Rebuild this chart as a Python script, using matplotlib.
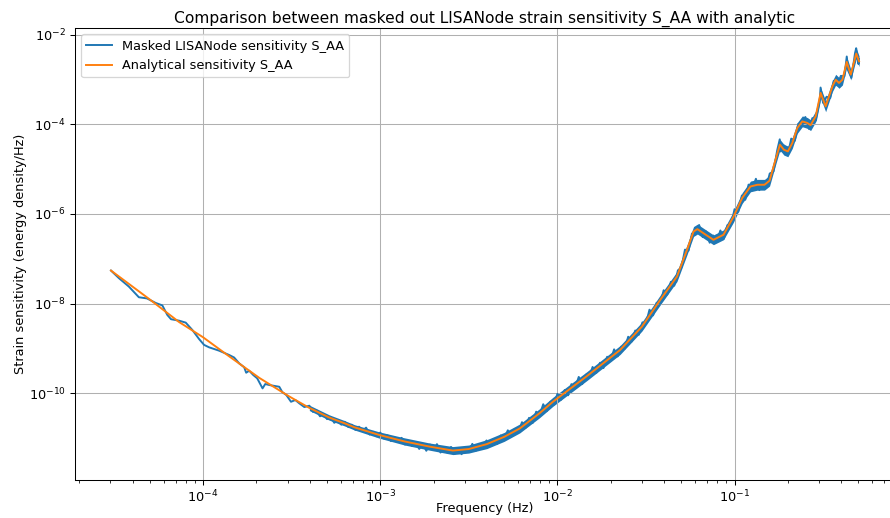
import matplotlib
matplotlib.use("Agg")
import matplotlib.pyplot as plt

# Masked LISANode sensitivity S_AA
freq_lisa = [
    3.02e-5, 3.35e-5, 3.81e-5, 4.34e-5, 4.82e-5, 5.40e-5, 5.89e-5, 6.28e-5,
    6.59e-5, 7.31e-5, 7.98e-5, 8.70e-5, 9.49e-5, 1.013e-4, 1.081e-4, 1.232e-4,
    1.403e-4, 1.497e-4, 1.598e-4, 1.706e-4, 1.751e-4, 1.821e-4, 1.919e-4, 2.021e-4,
    2.166e-4, 2.244e-4, 2.363e-4, 2.556e-4, 2.692e-4, 2.800e-4, 2.950e-4, 3.135e-4,
    3.317e-4, 3.494e-4, 3.729e-4,
    3.98e-4, 4.17e-4, 4.37e-4, 4.57e-4, 4.79e-4, 5.01e-4, 5.25e-4, 5.50e-4,
    5.75e-4, 6.03e-4, 6.31e-4, 6.61e-4, 6.92e-4, 7.24e-4, 7.59e-4, 7.94e-4,
    8.32e-4, 8.71e-4, 9.12e-4, 9.55e-4, 1.00e-3, 1.05e-3, 1.10e-3, 1.15e-3,
    1.20e-3, 1.26e-3, 1.32e-3, 1.38e-3, 1.45e-3, 1.51e-3, 1.58e-3, 1.66e-3,
    1.74e-3, 1.82e-3, 1.91e-3, 2.00e-3, 2.09e-3, 2.19e-3, 2.29e-3, 2.40e-3,
    2.51e-3, 2.63e-3, 2.75e-3, 2.88e-3, 3.02e-3, 3.16e-3, 3.31e-3, 3.47e-3,
    3.63e-3, 3.80e-3, 3.98e-3, 4.17e-3, 4.37e-3, 4.57e-3, 4.79e-3, 5.01e-3,
    5.25e-3, 5.50e-3, 5.75e-3, 6.03e-3, 6.31e-3, 6.61e-3, 6.92e-3, 7.24e-3,
    7.59e-3, 7.94e-3, 8.32e-3, 8.71e-3, 9.12e-3, 9.55e-3, 1.00e-2, 1.05e-2,
    1.10e-2, 1.15e-2, 1.20e-2, 1.26e-2, 1.32e-2, 1.38e-2, 1.45e-2, 1.51e-2,
    1.58e-2, 1.66e-2, 1.74e-2, 1.82e-2, 1.91e-2, 2.00e-2, 2.09e-2, 2.19e-2,
    2.29e-2, 2.40e-2, 2.51e-2, 2.63e-2, 2.75e-2, 2.88e-2, 3.02e-2, 3.16e-2,
    3.31e-2, 3.47e-2, 3.63e-2, 3.80e-2, 3.98e-2, 4.17e-2, 4.37e-2, 4.57e-2,
    4.79e-2, 5.01e-2, 5.25e-2, 5.50e-2, 5.75e-2, 6.03e-2, 6.31e-2, 6.61e-2,
    6.92e-2, 7.24e-2, 7.59e-2, 7.94e-2, 8.32e-2, 8.71e-2, 9.12e-2, 9.55e-2,
    0.100, 0.105, 0.110, 0.115, 0.120, 0.126, 0.132, 0.138,
    0.145, 0.151, 0.158, 0.166, 0.174, 0.180, 0.182, 0.191,
    0.200, 0.209, 0.219, 0.229, 0.240, 0.251, 0.263, 0.275,
    0.288, 0.302, 0.306, 0.316, 0.331, 0.347, 0.363, 0.380,
    0.398, 0.417, 0.430, 0.437, 0.457, 0.479, 0.486, 0.501,
    0.504,
]
s_lisa = [
    5.45e-8, 3.68e-8, 2.39e-8, 1.38e-8, 1.30e-8, 1.03e-8, 9.06e-9, 5.56e-9,
    4.46e-9, 4.14e-9, 3.74e-9, 2.56e-9, 1.61e-9, 1.19e-9, 1.05e-9, 8.83e-10,
    7.08e-10, 6.22e-10, 4.61e-10, 3.76e-10, 2.84e-10, 3.15e-10, 2.53e-10, 2.13e-10,
    1.27e-10, 1.59e-10, 1.51e-10, 1.43e-10, 1.38e-10, 1.05e-10, 9.02e-11, 6.38e-11,
    6.97e-11, 5.88e-11, 4.86e-11,
    5.21e-11, 3.79e-11, 4.11e-11, 3.02e-11, 3.40e-11, 2.61e-11, 2.94e-11, 2.16e-11,
    2.42e-11, 1.96e-11, 2.28e-11, 1.73e-11, 1.96e-11, 1.50e-11, 1.77e-11, 1.42e-11,
    1.69e-11, 1.18e-11, 1.36e-11, 1.08e-11, 1.31e-11, 9.57e-12, 1.14e-11, 8.43e-12,
    1.04e-11, 8.20e-12, 1.00e-11, 7.05e-12, 8.24e-12, 6.56e-12, 8.02e-12, 5.64e-12,
    7.35e-12, 5.13e-12, 7.08e-12, 5.32e-12, 7.21e-12, 4.68e-12, 6.00e-12, 4.59e-12,
    6.24e-12, 4.37e-12, 5.89e-12, 4.30e-12, 6.25e-12, 5.01e-12, 7.31e-12, 5.16e-12,
    7.24e-12, 6.04e-12, 8.71e-12, 6.50e-12, 9.35e-12, 7.28e-12, 1.13e-11, 9.55e-12,
    1.47e-11, 1.08e-11, 1.58e-11, 1.35e-11, 2.23e-11, 1.67e-11, 2.79e-11, 2.13e-11,
    3.83e-11, 3.21e-11, 5.62e-11, 3.93e-11, 6.41e-11, 5.50e-11, 9.55e-11, 7.08e-11,
    1.17e-10, 8.91e-11, 1.58e-10, 1.32e-10, 2.29e-10, 1.58e-10, 2.57e-10, 2.19e-10,
    3.82e-10, 2.84e-10, 4.74e-10, 3.61e-10, 6.46e-10, 5.40e-10, 9.46e-10, 6.58e-10,
    1.09e-9, 9.82e-10, 1.81e-9, 1.42e-9, 2.49e-9, 2.00e-9, 3.80e-9, 3.54e-9,
    7.28e-9, 5.43e-9, 1.04e-8, 9.70e-9, 1.98e-8, 1.58e-8, 3.05e-8, 2.50e-8,
    5.52e-8, 6.28e-8, 1.60e-7, 1.51e-7, 3.67e-7, 3.61e-7, 5.69e-7, 3.05e-7,
    4.06e-7, 2.28e-7, 3.30e-7, 2.48e-7, 4.29e-7, 2.79e-7, 5.65e-7, 5.62e-7,
    1.28e-6, 1.12e-6, 2.59e-6, 2.08e-6, 4.53e-6, 3.56e-6, 6.12e-6, 3.41e-6,
    5.16e-6, 3.91e-6, 8.02e-6, 8.95e-6, 2.62e-5, 4.66e-5, 2.49e-5, 3.38e-5,
    2.13e-5, 4.84e-5, 4.31e-5, 1.03e-4, 9.08e-5, 1.47e-4, 7.96e-5, 1.39e-4,
    1.22e-4, 3.10e-4, 6.68e-4, 3.04e-4, 4.17e-4, 3.90e-4, 9.44e-4, 7.43e-4,
    1.22e-3, 1.19e-3, 3.30e-3, 1.63e-3, 1.10e-3, 3.97e-3, 5.06e-3, 2.23e-3,
    2.90e-3,
]

# spread of the noisy LISANode curve (upper / lower edge of the band)
freq_band = [
    3.98e-4, 5.16e-4, 6.31e-4, 7.16e-4, 9.91e-4, 1.37e-3, 1.90e-3, 2.57e-3,
    3.16e-3, 4.00e-3, 5.01e-3, 6.14e-3, 7.94e-3, 9.44e-3, 1.47e-2, 2.26e-2,
    3.00e-2, 3.81e-2, 4.73e-2, 5.39e-2, 5.87e-2, 6.17e-2, 6.76e-2, 7.60e-2,
    8.66e-2, 9.86e-2, 0.1104, 0.1230, 0.1348, 0.1476, 0.1576, 0.1703,
    0.1803, 0.1899, 0.2000, 0.2118, 0.2261, 0.2413, 0.2576, 0.2688,
    0.2870, 0.3062, 0.3268, 0.3566, 0.3724, 0.3888, 0.4064, 0.4298,
    0.4528, 0.4864, 0.5046,
]
band_hi = [
    5.35e-11, 3.25e-11, 2.41e-11, 1.96e-11, 1.35e-11, 9.98e-12, 7.64e-12, 6.37e-12,
    6.89e-12, 9.10e-12, 1.32e-11, 2.04e-11, 4.47e-11, 8.04e-11, 3.02e-10, 1.15e-9,
    3.83e-9, 1.55e-8, 5.15e-8, 2.04e-7, 5.24e-7, 5.92e-7, 4.65e-7, 3.41e-7,
    4.42e-7, 1.14e-6, 2.99e-6, 5.43e-6, 5.93e-6, 5.93e-6, 7.29e-6, 2.15e-5,
    4.66e-5, 3.60e-5, 3.30e-5, 5.08e-5, 1.10e-4, 1.55e-4, 1.43e-4, 1.27e-4,
    2.00e-4, 6.68e-4, 3.35e-4, 9.38e-4, 1.32e-3, 1.12e-3, 1.32e-3, 3.30e-3,
    1.71e-3, 5.06e-3, 3.40e-3,
]
band_lo = [
    4.06e-11, 2.47e-11, 1.83e-11, 1.49e-11, 9.77e-12, 6.90e-12, 5.28e-12, 4.21e-12,
    4.55e-12, 5.74e-12, 8.32e-12, 1.29e-11, 2.82e-11, 5.07e-11, 1.91e-10, 7.28e-10,
    2.42e-9, 9.35e-9, 3.10e-8, 1.23e-7, 3.15e-7, 3.56e-7, 2.80e-7, 2.06e-7,
    2.66e-7, 6.56e-7, 1.72e-6, 3.13e-6, 3.41e-6, 3.41e-6, 4.20e-6, 1.24e-5,
    2.68e-5, 2.07e-5, 1.90e-5, 2.92e-5, 6.34e-5, 8.89e-5, 8.20e-5, 7.31e-5,
    1.15e-4, 3.85e-4, 1.93e-4, 5.40e-4, 7.62e-4, 6.43e-4, 7.62e-4, 1.90e-3,
    9.86e-4, 2.91e-3, 1.96e-3,
]

# Analytical sensitivity S_AA
freq_model = [
    3.02e-5, 4.95e-5, 7.31e-5, 1.00e-4, 1.40e-4, 2.08e-4, 3.07e-4, 3.98e-4,
    5.16e-4, 6.31e-4, 7.16e-4, 9.91e-4, 1.37e-3, 1.90e-3, 2.57e-3, 3.16e-3,
    4.00e-3, 5.01e-3, 6.14e-3, 7.94e-3, 9.44e-3, 1.47e-2, 2.26e-2, 3.00e-2,
    3.81e-2, 4.73e-2, 5.39e-2, 5.87e-2, 6.17e-2, 6.76e-2, 7.60e-2, 8.66e-2,
    9.86e-2, 0.1104, 0.1230, 0.1348, 0.1476, 0.1576, 0.1703, 0.1803,
    0.1899, 0.2000, 0.2118, 0.2261, 0.2413, 0.2576, 0.2688, 0.2870,
    0.3062, 0.3268, 0.3566, 0.3724, 0.3888, 0.4064, 0.4298, 0.4528,
    0.4864, 0.5046,
]
s_model = [
    5.45e-8, 1.27e-8, 3.87e-9, 1.76e-9, 6.65e-10, 2.17e-10, 8.35e-11, 4.65e-11,
    2.83e-11, 2.10e-11, 1.71e-11, 1.15e-11, 8.30e-12, 6.35e-12, 5.18e-12, 5.60e-12,
    7.23e-12, 1.05e-11, 1.62e-11, 3.55e-11, 6.39e-11, 2.40e-10, 9.16e-10, 3.04e-9,
    1.21e-8, 4.00e-8, 1.58e-7, 4.06e-7, 4.59e-7, 3.60e-7, 2.65e-7, 3.43e-7,
    8.65e-7, 2.27e-6, 4.12e-6, 4.50e-6, 4.50e-6, 5.54e-6, 1.63e-5, 3.53e-5,
    2.73e-5, 2.50e-5, 3.85e-5, 8.35e-5, 1.17e-4, 1.08e-4, 9.64e-5, 1.52e-4,
    5.07e-4, 2.54e-4, 7.11e-4, 1.00e-3, 8.47e-4, 1.00e-3, 2.50e-3, 1.30e-3,
    3.84e-3, 2.58e-3,
]

dpi = 92.8
fig = plt.figure(figsize=(890 / dpi, 518 / dpi), dpi=dpi)
ax = fig.add_axes([74.5 / 890, 38 / 518, (895 - 74.5) / 890, 452 / 518])

ax.fill_between(freq_band, band_lo, band_hi, color="C0", linewidth=0)
ax.loglog(freq_lisa, s_lisa, color="C0", label="Masked LISANode sensitivity S_AA")
ax.loglog(freq_model, s_model, color="C1", label="Analytical sensitivity S_AA")

ax.set_xlim(1.88e-5, 0.805)
ax.set_ylim(1.14e-12, 1.43e-2)
ax.grid(True)
ax.legend(loc="upper left")
ax.set_title("Comparison between masked out LISANode strain sensitivity S_AA with analytic",
             pad=3.7)
ax.set_xlabel("Frequency (Hz)", labelpad=-3)
ax.set_ylabel("Strain sensitivity (energy density/Hz)", labelpad=1)

fig.savefig("out.png", dpi=dpi)
